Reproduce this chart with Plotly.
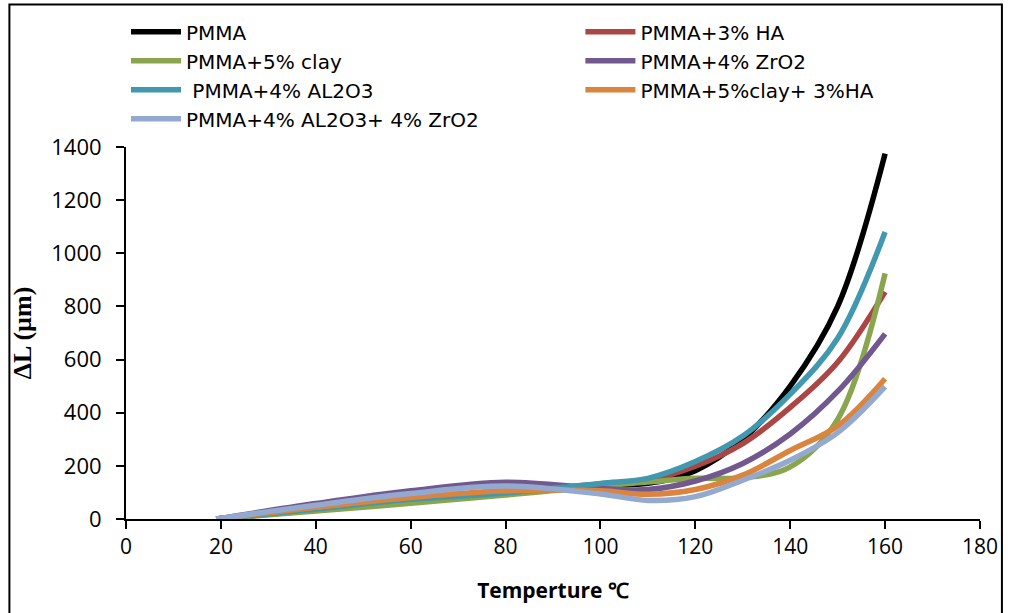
import plotly.graph_objects as go

temps = [19, 40, 60, 80, 100, 110, 120, 130, 140, 150, 160]

names = ["PMMA", "PMMA+3% HA", "PMMA+5% clay", "PMMA+4% ZrO2",
         " PMMA+4% AL2O3", "PMMA+5%clay+ 3%HA", "PMMA+4% AL2O3+ 4% ZrO2"]

pmma         = [0, 34, 66, 100, 128, 134, 182, 300, 500, 800, 1375]
pmma_ha      = [0, 40, 76, 102, 132, 146, 199, 284, 420, 590, 855]
pmma_clay    = [0, 30, 59, 90, 125, 139, 153, 155, 196, 375, 924]
pmma_zro2    = [0, 58, 106, 138, 115, 111, 143, 209, 320, 480, 697]
pmma_al2o3   = [0, 38, 74, 98, 134, 153, 216, 312, 470, 680, 1080]
pmma_clay_ha = [0, 44, 81, 106, 106, 93, 111, 165, 258, 350, 528]
pmma_al_zr   = [0, 52, 96, 124, 94, 70, 84, 146, 221, 325, 498]

series = [pmma, pmma_ha, pmma_clay, pmma_zro2, pmma_al2o3, pmma_clay_ha, pmma_al_zr]
colors = ["#000000", "#AA4643", "#89A54E", "#71588F", "#4198AF", "#DB843D", "#93A9CF"]
legend_col = ["legend", "legend2", "legend", "legend2", "legend", "legend2", "legend"]

x_ticks = list(range(0, 181, 20))
y_ticks = list(range(0, 1401, 200))

fig = go.Figure()
for name, vals, col, lg in zip(names, series, colors, legend_col):
    fig.add_trace(go.Scatter(
        x=temps, y=vals, name=name, mode="lines", legend=lg,
        line=dict(color=col, width=5.5, shape="spline", smoothing=1.0),
    ))

# body margin removed by post_script -> page pixels == figure pixels
W, H = 1010, 613
PL, PR, PT, PB = 126, 983, 146, 519          # plot area in page pixels
L, T = PL, PT
R, B = W - PR, H - PB
pw, ph = W - L - R, H - T - B

def px_x(p):
    return (p - L) / pw

def px_y(p):
    return (H - B - p) / ph

leg_common = dict(
    orientation="v", xanchor="left", yanchor="top",
    itemwidth=50, tracegroupgap=0, traceorder="normal",
    font=dict(family="DejaVu Sans", size=20, color="black"),
    bgcolor="rgba(0,0,0,0)",
)

fig.update_layout(
    width=W, height=H,
    margin=dict(l=L, r=R, t=T, b=B),
    paper_bgcolor="white", plot_bgcolor="white",
    font=dict(family="Open Sans", size=20, color="black"),
    showlegend=True,
    legend=dict(x=px_x(126), y=px_y(11), **leg_common),
    legend2=dict(x=px_x(582), y=px_y(11), **leg_common),
    xaxis=dict(
        range=[0, 180], tickvals=x_ticks, ticktext=[str(v) for v in x_ticks],
        showgrid=False, zeroline=False, showline=True, linecolor="black", linewidth=2,
        ticks="outside", ticklen=8, tickwidth=2, tickcolor="black",
        tickfont=dict(family="Open Sans", size=21),
        title=dict(text="<b>Temperture ℃</b>", font=dict(family="Open Sans", size=21), standoff=24),
    ),
    yaxis=dict(
        range=[0, 1400], tickvals=y_ticks, ticktext=[str(v) for v in y_ticks],
        showgrid=False, zeroline=False, showline=True, linecolor="black", linewidth=2,
        ticks="outside", ticklen=8, tickwidth=2, tickcolor="black",
        tickfont=dict(family="Open Sans", size=22), ticklabelstandoff=10,
        title=dict(text="<b>ΔL (µm)</b>", font=dict(family="Liberation Serif", size=26), standoff=12),
    ),
    shapes=[dict(
        type="rect", xref="paper", yref="paper",
        x0=px_x(9), x1=px_x(1005), y0=px_y(650), y1=px_y(3),
        line=dict(color="black", width=2), fillcolor="rgba(0,0,0,0)", layer="below",
    )],
)

fig.write_html("out.html", config={"displayModeBar": False},
               post_script="document.body.style.margin='0px';")
